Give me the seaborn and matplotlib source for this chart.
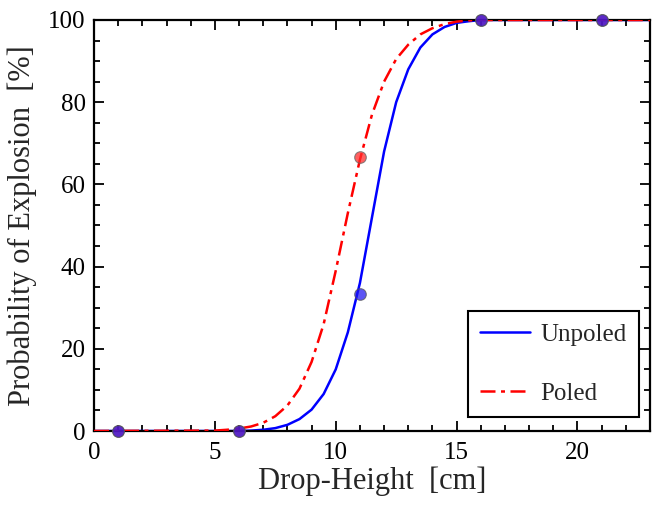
import matplotlib
matplotlib.use("Agg")
import matplotlib.pyplot as plt
import seaborn as sns
import pandas as pd

sns.set_theme(style="ticks")
plt.rcParams["font.family"] = ["Liberation Serif", "DejaVu Serif"]

# measured points
drop_height = [1, 6, 11, 16, 21]
unpoled_pts = [0, 0, 33.3, 100, 100]
poled_pts = [0, 0, 66.7, 100, 100]

# fitted curves
curve_x = [0, 5, 5.5, 6, 6.5, 7, 7.5, 8, 8.5, 9, 9.5, 10, 10.5, 11, 11.5, 12,
           12.5, 13, 13.5, 14, 14.5, 15, 15.5, 16, 23]
unpoled_fit = [0, 0, 0, 0, 0.1, 0.3, 0.7, 1.5, 2.9, 5.2, 9, 15, 24, 36, 52, 68,
               80, 88, 93.3, 96.5, 98.3, 99.3, 99.7, 100, 100]
poled_fit = [0, 0.1, 0.3, 0.6, 1.1, 2, 3.6, 6.2, 10.3, 16.8, 26, 39, 53, 66, 77, 85,
             90.5, 94, 96.5, 98, 99, 99.6, 99.9, 100, 100]

pts = pd.DataFrame({"h": drop_height, "unpoled": unpoled_pts, "poled": poled_pts})
fit = pd.DataFrame({"h": curve_x, "unpoled": unpoled_fit, "poled": poled_fit})

fig = plt.figure(figsize=(6.53, 5.05), dpi=100)
ax = fig.add_axes([94 / 653, 1 - 431 / 505, 556 / 653, 411 / 505])

sns.lineplot(data=fit, x="h", y="unpoled", color="#0000ff", lw=1.8, ax=ax,
             label="Unpoled", zorder=2)
sns.lineplot(data=fit, x="h", y="poled", color="#ff0000", lw=1.8, ax=ax,
             label="Poled", zorder=3)
ax.lines[-1].set_dashes((6, 2.2, 1.6, 2.2))
for ln in ax.lines:
    ln.set_solid_joinstyle("round")

sns.scatterplot(data=pts, x="h", y="poled", color="#ff2a2a", alpha=0.75, s=70,
                edgecolor="#666666", linewidth=0.8, ax=ax, zorder=4,
                legend=False, clip_on=False)
sns.scatterplot(data=pts, x="h", y="unpoled", color="#1e14f0", alpha=0.72, s=70,
                edgecolor="#555555", linewidth=0.8, ax=ax, zorder=5,
                legend=False, clip_on=False)

ax.set_xlim(0, 23)
ax.set_ylim(0, 100)
ax.set_xticks([0, 5, 10, 15, 20])
ax.set_xticks(range(0, 24), minor=True)
ax.set_yticks([0, 20, 40, 60, 80, 100])
ax.set_yticks(range(0, 101, 5), minor=True)
ax.tick_params(which="both", direction="in", top=True, right=True, width=1.3,
               colors="black", labelsize=18)
ax.tick_params(which="major", length=7)
ax.tick_params(which="minor", length=4)
ax.tick_params(axis="x", pad=8)
ax.tick_params(axis="y", pad=6)
for s in ax.spines.values():
    s.set_linewidth(1.6)
    s.set_color("black")

ax.set_xlabel("Drop-Height  [cm]", fontsize=22, labelpad=2)
ax.set_ylabel("Probability of Explosion  [%]", fontsize=22, labelpad=8)

leg = ax.legend(loc="lower right", bbox_to_anchor=(0.98, 0.034), borderaxespad=0,
                fontsize=18, frameon=True, fancybox=False, edgecolor="black",
                framealpha=1, handlelength=2.0, handletextpad=0.4,
                labelspacing=1.45, borderpad=0.5)
leg.get_frame().set_linewidth(1.5)

fig.savefig("out.png", dpi=100)
